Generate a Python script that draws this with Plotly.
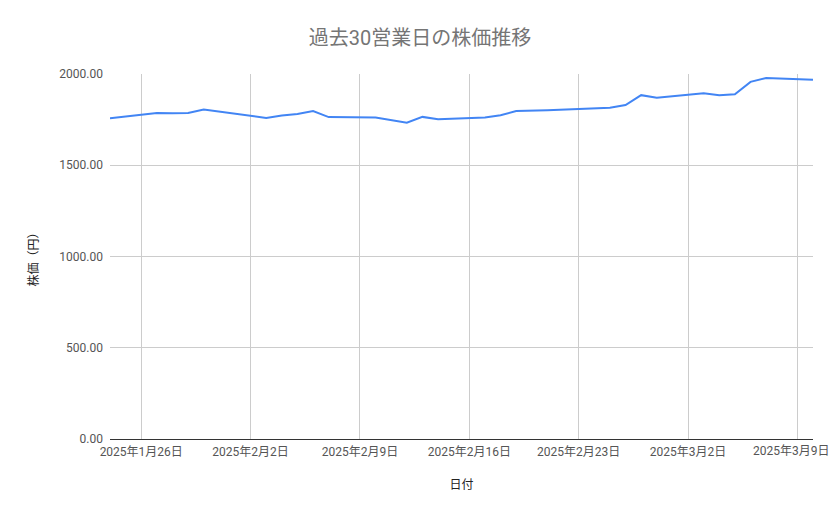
import plotly.graph_objects as go

# 過去30営業日 (土日・祝日を除く)
dates = [
    "2025-01-24", "2025-01-27", "2025-01-28", "2025-01-29", "2025-01-30",
    "2025-01-31", "2025-02-03", "2025-02-04", "2025-02-05", "2025-02-06",
    "2025-02-07", "2025-02-10", "2025-02-12", "2025-02-13", "2025-02-14",
    "2025-02-17", "2025-02-18", "2025-02-19", "2025-02-20", "2025-02-21",
    "2025-02-25", "2025-02-26", "2025-02-27", "2025-02-28", "2025-03-03",
    "2025-03-04", "2025-03-05", "2025-03-06", "2025-03-07", "2025-03-10",
]
prices = [
    1758, 1786, 1785, 1786, 1806,
    1794, 1759, 1772, 1781, 1797,
    1764, 1762, 1733, 1765, 1752,
    1762, 1774, 1797, 1799, 1801,
    1815, 1830, 1884, 1870, 1894,
    1884, 1889, 1957, 1978, 1969,
]

tick_dates = ["2025-01-26", "2025-02-02", "2025-02-09", "2025-02-16",
              "2025-02-23", "2025-03-02", "2025-03-09"]
tick_labels = ["2025年1月26日", "2025年2月2日", "2025年2月9日", "2025年2月16日",
               "2025年2月23日", "2025年3月2日", "2025年3月9日"]
y_ticks = [0, 500, 1000, 1500, 2000]

font_family = "Roboto, 'Noto Sans CJK JP', sans-serif"
tick_color = "#555555"

# page body keeps its 8px margin, so the figure is 16px smaller than the window
W, H = 823, 503

fig = go.Figure()
fig.add_trace(go.Scatter(
    x=dates,
    y=prices,
    mode="lines",
    line=dict(color="#4285F4", width=2),
    name="株価",
))

# the last date label runs past the figure edge, so draw it as an
# annotation nudged left instead of letting plotly clip it
shown_labels = tick_labels[:-1] + [""]
fig.add_annotation(
    x=tick_dates[-1], xref="x",
    y=0, yref="paper",
    text=tick_labels[-1],
    showarrow=False,
    xanchor="center", yanchor="middle",
    xshift=-6, yshift=-12,
    font=dict(size=12, color=tick_color, family=font_family),
)

fig.update_layout(
    width=W,
    height=H,
    margin=dict(l=102, r=18, t=66, b=72),
    paper_bgcolor="white",
    plot_bgcolor="white",
    showlegend=False,
    font=dict(family=font_family, size=12, color=tick_color),
    title=dict(
        text="過去30営業日の株価推移",
        x=(420 - 8) / W,
        xanchor="center",
        y=1 - 30 / H,
        yanchor="middle",
        font=dict(size=20, color="#757575", family=font_family),
    ),
    xaxis=dict(
        range=[dates[0], dates[-1]],
        tickvals=tick_dates,
        ticktext=shown_labels,
        automargin=False,
        showgrid=True,
        gridcolor="#cccccc",
        gridwidth=1,
        zeroline=False,
        showline=False,
        ticks="",
        ticklabelstandoff=4,
        tickfont=dict(size=12, color=tick_color),
        title=dict(text="日付", standoff=22,
                   font=dict(size=12, color="#222222")),
    ),
    yaxis=dict(
        range=[0, 2000],
        tickvals=y_ticks,
        tickformat=".2f",
        automargin=False,
        showgrid=True,
        gridcolor="#cccccc",
        gridwidth=1,
        zeroline=True,
        zerolinecolor="#333333",
        zerolinewidth=1,
        showline=False,
        ticks="",
        ticklabelstandoff=6,
        tickfont=dict(size=12, color=tick_color),
        title=dict(text="株価（円）", standoff=18,
                   font=dict(size=12, color="#222222")),
    ),
)

fig.write_html("out.html")
